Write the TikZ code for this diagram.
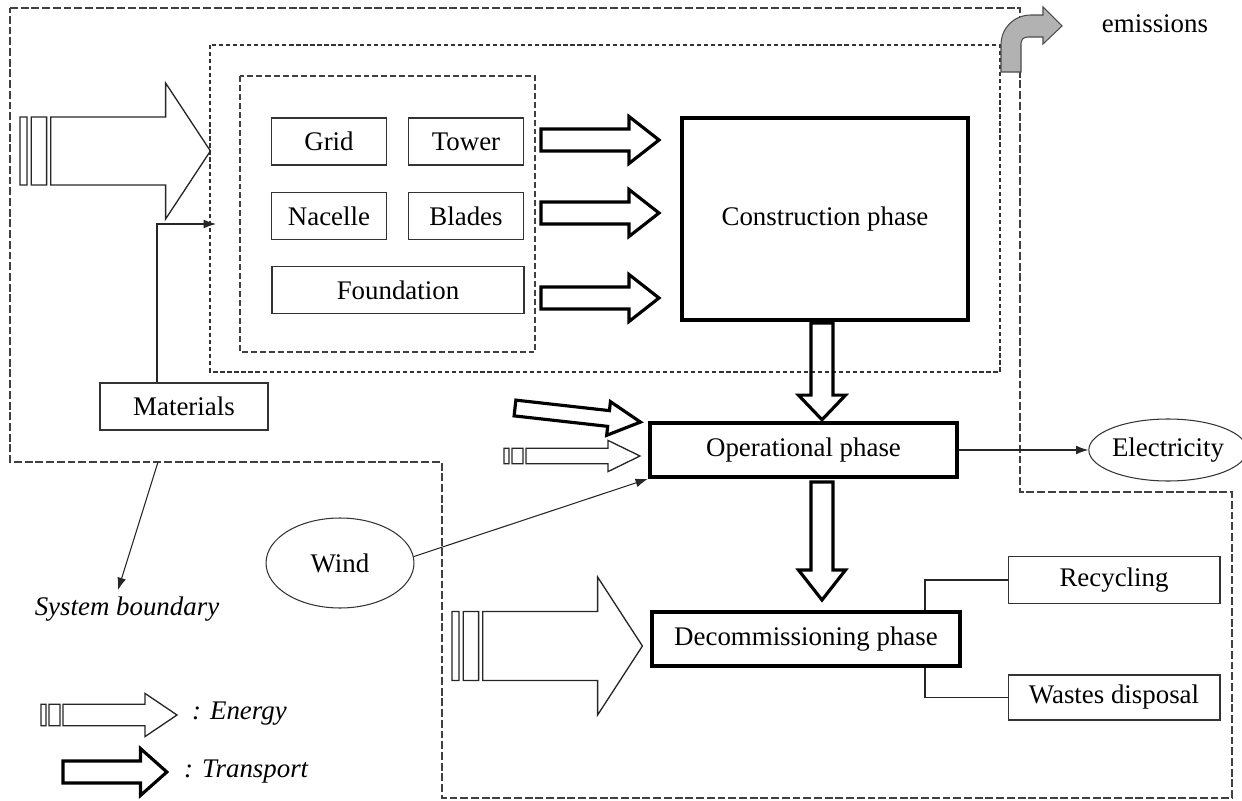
\documentclass[tikz,border=0pt]{standalone}
\usepackage{fontspec}
\setmainfont{Liberation Serif}
\usetikzlibrary{arrows.meta,shapes.geometric}

\tikzset{
    transport/.pic={
        \draw[line width=1.8pt, line join=miter] (0,-11) -- (88,-11) -- (88,-23.5) -- (118,0)
            -- (88,23.5) -- (88,11) -- (0,11) -- cycle;
    },
    energy/.pic={
        \draw[line width=0.75pt, draw=black!85] (0,-10) rectangle (5,10) (8,-10) rectangle (19,10)
            (22,-10) -- (104,-10) -- (104,-20) -- (136,0) -- (104,20) -- (104,10) -- (22,10) -- cycle;
    }
}

\begin{document}
\begin{tikzpicture}[x=0.02cm, y=-0.02cm, font=\fontsize{15.3}{18}\selectfont,
        box/.style={draw=black!80, line width=0.6pt, inner sep=0pt, minimum height=0.94cm},
        phase/.style={draw, line width=2.2pt, inner sep=0pt, minimum height=1.08cm, minimum width=6.15cm},
        ellip/.style={draw=black!80, ellipse, line width=0.6pt, inner sep=0pt},
        boundary/.style={draw=black!75, line width=1pt, dash pattern=on 4.5pt off 1.6pt},
        link/.style={black!85, line width=0.6pt},
        legend/.style={font=\fontsize{15.3}{18}\selectfont\itshape}
    ]

    \useasboundingbox (0,0) rectangle (1242,801);

    % system boundary and the two inner frames
    \draw[boundary] (10,8) -- (1020,8) -- (1020,492) -- (1232,492) -- (1232,798)
        -- (442,798) -- (442,462) -- (10,462) -- cycle;
    \draw[black!80, line width=0.8pt, dash pattern=on 2.4pt off 1.6pt] (210,45) rectangle (1000,372);
    \draw[black!75, line width=0.8pt, dash pattern=on 3.4pt off 1.7pt] (240,76) rectangle (535,352);

    \begin{scope}[every node/.style={box, minimum width=2.29cm}]
        \node (grid) at (329,141.5) {Grid};
        \node (tower) at (466,141.5) {Tower};
        \node (nacelle) at (329,216) {Nacelle};
        \node (blades) at (466,216) {Blades};
    \end{scope}
    \node[box, minimum width=5.04cm] (found) at (398,290) {Foundation};

    \node[phase, minimum width=5.72cm, minimum height=4.04cm] (constr) at (825,219) {Construction phase};
    \node[phase] (oper) at (803.5,450) {Operational phase};
    \node[phase] (decom) at (806,639) {Decommissioning phase};
    \node[box, minimum width=4.24cm] (recyc) at (1114,580) {Recycling};
    \node[box, minimum width=4.24cm, minimum height=0.9cm] (waste) at (1114,697.5) {Wastes disposal};
    \node[box, minimum width=3.36cm] (mat) at (184,406.5) {Materials};
    \node[ellip, minimum width=2.6cm, minimum height=1.24cm] (elec) at (1168,450) {Electricity};
    \node[ellip, minimum width=2.96cm, minimum height=1.8cm] (wind) at (340,563) {Wind};

    \node (emis) at (1155,24) {emissions};
    \node[legend] (sblabel) at (127,609) {System boundary};
    \node[legend, anchor=west] (energy) at (186,714) {: Energy};
    \node[legend, anchor=west] (transp) at (178,772) {: Transport};

    \coordinate (matin) at (216,224);
    \coordinate (sb) at (158,462);
    \coordinate (sbend) at (118,590);

    \draw[link, -{Latex[length=7pt, width=5pt]}] (oper.east) -- (elec.west);
    \draw[link, -{Latex[length=7pt, width=5pt]}] (wind.5) -- (oper.south west);
    \draw[link, -{Latex[length=7pt, width=5pt]}] ([xshift=-0.54cm]mat.north) |- (matin);
    \draw[link, -{Latex[length=7pt, width=5pt]}] (sb) -- (sbend);
    \draw[link] ([xshift=2.38cm]decom.north) |- (recyc.west);
    \draw[link] ([xshift=2.38cm]decom.south) |- (waste.west);

    % fat arrows
    \pic at (541,140) {transport};
    \pic at (541,213) {transport};
    \pic at (541,298) {transport};
    \pic[rotate=-90, xscale=0.82] at (822,323) {transport};
    \pic[rotate=-90] at (822,482) {transport};
    \pic[rotate=-6.4, xscale=1.07, yscale=0.72] at (515,408) {transport};
    \pic[xscale=0.88] at (63,772) {transport};
    \pic[xscale=1.4, yscale=3.4] at (20,151) {energy};
    \pic[xscale=1.4, yscale=3.45] at (452,646) {energy};
    \pic[yscale=0.78] at (504,456) {energy};
    \pic[yscale=1.08] at (41,715) {energy};

    % emissions
    \draw[fill=black!30, draw=black!70, line width=0.6pt] (1001,72) -- (1001,45)
        .. controls (1001,28) and (1014,15) .. (1031,15) -- (1043,15) -- (1043,7) -- (1062,26)
        -- (1043,44) -- (1043,37) -- (1028,37) .. controls (1023,37) and (1021,40) .. (1021,44)
        -- (1021,72) -- cycle;

\end{tikzpicture}
\end{document}
